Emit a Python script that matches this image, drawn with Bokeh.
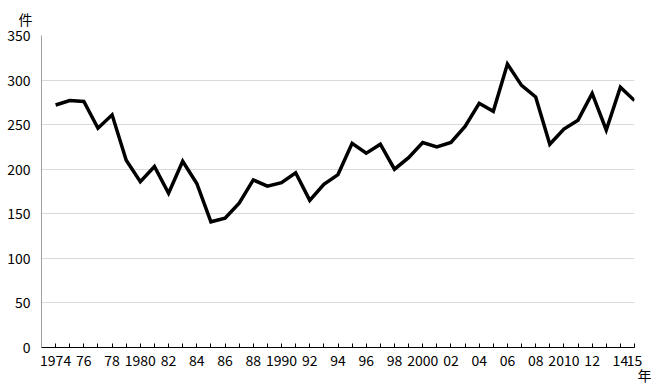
from bokeh.plotting import figure
from bokeh.models import Range1d, FixedTicker, Title
from bokeh.embed import file_html
from bokeh.resources import INLINE

years = list(range(1974, 2016))
counts = [272, 277, 276, 246, 261, 210, 186, 203, 173, 209,
          184, 141, 145, 162, 188, 181, 185, 196, 165, 183,
          194, 229, 218, 228, 200, 213, 230, 225, 230, 248,
          274, 265, 318, 294, 281, 228, 245, 255, 285, 244,
          292, 277]
x_ticks = list(range(1973, 2016))
x_tick_labels = {1974: "1974", 1976: "76", 1978: "78", 1980: "1980", 1982: "82",
                 1984: "84", 1986: "86", 1988: "88", 1990: "1990", 1992: "92",
                 1994: "94", 1996: "96", 1998: "98", 2000: "2000", 2002: "02",
                 2004: "04", 2006: "06", 2008: "08", 2010: "2010", 2012: "12",
                 2014: "14", 2015: "15"}
y_ticks = [0, 50, 100, 150, 200, 250, 300, 350]
y_unit = "件"
x_unit = "年"

FONT = "Noto Sans CJK JP"

p = figure(frame_width=593, frame_height=312,
           min_border_left=41, min_border_right=17,
           min_border_top=34, min_border_bottom=39,
           x_range=Range1d(1973, 2015), y_range=Range1d(0, 350),
           output_backend="svg", toolbar_location=None,
           background_fill_color="white", border_fill_color="white")
p.outline_line_color = None

p.line(years, counts, line_color="black", line_width=3.5, line_join="miter")

# x axis
xa = p.xaxis[0]
xa.ticker = FixedTicker(ticks=x_ticks)
xa.major_label_overrides = {t: x_tick_labels.get(t, "") for t in x_ticks}
xa.major_tick_in = 4
xa.major_tick_out = 0
xa.minor_tick_line_color = None
xa.axis_line_color = "black"
xa.major_tick_line_color = "black"
xa.major_label_standoff = 7
xa.major_label_text_font = FONT
xa.major_label_text_font_size = "14px"
xa.major_label_text_color = "black"

# y axis
ya = p.yaxis[0]
ya.ticker = FixedTicker(ticks=y_ticks)
ya.major_tick_in = 0
ya.major_tick_out = 0
ya.minor_tick_line_color = None
ya.axis_line_color = "#a0a0a0"
ya.major_label_standoff = 11
ya.major_label_text_font = FONT
ya.major_label_text_font_size = "14px"
ya.major_label_text_color = "black"

p.xgrid.grid_line_color = None
p.ygrid.grid_line_color = "#d9d9d9"
p.ygrid.grid_line_width = 1

p.add_layout(Title(text=y_unit, align="left", offset=-23, standoff=13,
                   text_font=FONT, text_font_size="14px",
                   text_font_style="normal", text_color="black"), "above")
p.add_layout(Title(text=x_unit, align="right", offset=-17, standoff=-12,
                   text_font=FONT, text_font_size="14px",
                   text_font_style="normal", text_color="black"), "below")

open("out.html", "w").write(file_html(p, INLINE))
